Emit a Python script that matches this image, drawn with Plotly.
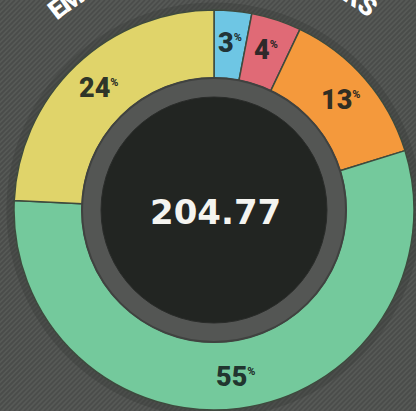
import math
import plotly.graph_objects as go

# ---- data ----
categories = ["Sector 1", "Sector 2", "Sector 3", "Sector 4", "Sector 5"]
values = [3, 4, 13, 55, 24]
colors = ["#6ec6e4", "#e06a76", "#f4993c", "#74c99c", "#e0d46a"]
center_value = "204.77"
title_text = "EMISSIONS BY SECTORS"

# ---- geometry (pixels) ----
W, H = 416, 411
CX, CY, R = 214, 210, 200
HOLE_R = 132
CORE_R = 113
LABEL_R = 168


def px(x):
    return x / W


def py(y):
    return 1 - y / H


fig = go.Figure()
fig.add_trace(go.Pie(
    labels=categories,
    values=values,
    sort=False,
    direction="clockwise",
    rotation=0,
    hole=HOLE_R / R,
    marker=dict(colors=colors, line=dict(color="#3e4a3e", width=1.5)),
    textinfo="none",
    hoverinfo="label+percent",
    showlegend=False,
    domain=dict(x=[px(CX - R), px(CX + R)], y=[py(CY + R), py(CY - R)]),
))

shapes = []
# diagonal striped background
segs = []
for k in range(-H, W + 5, 5):
    segs.append(f"M{px(k):.5f},{py(H):.5f} L{px(k + H):.5f},{py(0):.5f}")
shapes.append(dict(type="path", path=" ".join(segs), xref="paper", yref="paper",
                   line=dict(color="#4a4c4a", width=1.6), layer="below"))
# soft dark halo around donut
hr = R + 4
shapes.append(dict(type="circle", xref="paper", yref="paper",
                   x0=px(CX - hr), x1=px(CX + hr), y0=py(CY + hr), y1=py(CY - hr),
                   line=dict(color="rgba(55,57,55,0.35)", width=7), layer="below"))
# gray ring + black core
shapes.append(dict(type="circle", xref="paper", yref="paper",
                   x0=px(CX - HOLE_R), x1=px(CX + HOLE_R), y0=py(CY + HOLE_R), y1=py(CY - HOLE_R),
                   fillcolor="#545654", line=dict(color="#404240", width=2), layer="above"))
shapes.append(dict(type="circle", xref="paper", yref="paper",
                   x0=px(CX - CORE_R), x1=px(CX + CORE_R), y0=py(CY + CORE_R), y1=py(CY - CORE_R),
                   fillcolor="#222522", line=dict(color="#2a2c2a", width=1), layer="above"))

annotations = []
# percentage labels computed from data
total = sum(values)
cum = 0
for v in values:
    mid = (cum + v / 2) / total * 2 * math.pi
    cum += v
    x = CX + LABEL_R * math.sin(mid)
    y = CY - LABEL_R * math.cos(mid)
    annotations.append(dict(
        x=px(x), y=py(y), xref="paper", yref="paper", showarrow=False,
        xanchor="center", yanchor="middle",
        text=f"{v}<sup><span style='font-size:11px'>%</span></sup>",
        font=dict(family="Roboto", size=27, color="rgba(22,32,32,0.9)", weight=900),
    ))

# center total
annotations.append(dict(
    x=px(CX + 1), y=py(CY + 2), xref="paper", yref="paper", showarrow=False,
    xanchor="center", yanchor="middle", text=center_value,
    font=dict(family="DejaVu Sans", size=34, color="#f4f4f0", weight=700),
))

# curved title around the top (only the ends reach into the visible area)
n = len(title_text)
a0, a1 = -38.0, 37.0
TR = 255
for i, ch in enumerate(title_text):
    ang = a0 + (a1 - a0) * i / (n - 1)
    t = math.radians(ang)
    x = CX + TR * math.sin(t)
    y = CY - TR * math.cos(t)
    if ch == " " or y < -10:
        continue
    annotations.append(dict(
        x=px(x), y=py(y), xref="paper", yref="paper", showarrow=False,
        xanchor="center", yanchor="middle", text=ch, textangle=ang,
        font=dict(family="Roboto", size=26, color="#ffffff", weight=900),
    ))

fig.update_layout(
    width=W, height=H,
    margin=dict(l=0, r=0, t=0, b=0),
    paper_bgcolor="#565956",
    plot_bgcolor="#565956",
    shapes=shapes,
    annotations=annotations,
)

fig.write_html("out.html", config={"displayModeBar": False},
               post_script="document.body.style.margin='0';")
